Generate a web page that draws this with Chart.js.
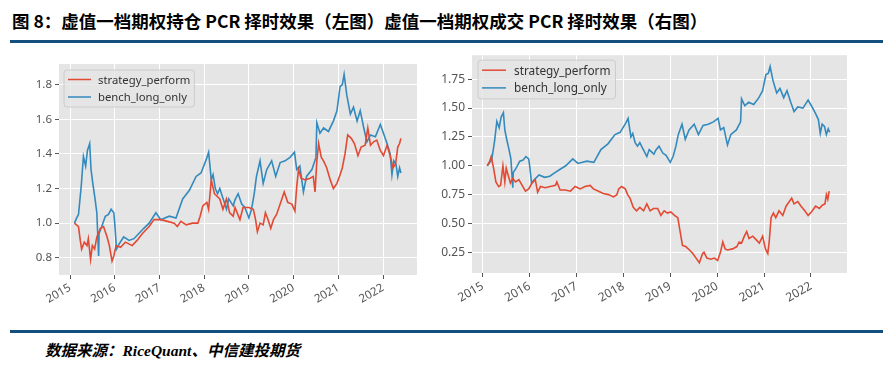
<!DOCTYPE html>
<html>
<head>
<meta charset="utf-8">
<script src="https://cdn.jsdelivr.net/npm/chart.js@4.4.1/dist/chart.umd.min.js"></script>
<style>
  body { margin: 0; width: 892px; height: 370px; background: #fff; position: relative; overflow: hidden; }
  #title { position: absolute; left: 12px; top: 8px; font: 700 17.5px "Noto Sans CJK SC", sans-serif; color: #000; white-space: nowrap; }
  .rule { position: absolute; left: 10px; width: 873px; height: 3px; background: #14507e; }
  #source { position: absolute; left: 45px; top: 338px; font: italic 700 15.5px "Liberation Serif", "Noto Sans CJK SC", serif; color: #000; white-space: nowrap; }
  canvas { position: absolute; }
</style>
</head>
<body>
<div id="title">图 8：虚值一档期权持仓 PCR 择时效果（左图）虚值一档期权成交 PCR 择时效果（右图）</div>
<div class="rule" style="top:40px"></div>
<canvas id="leftChart" width="440" height="272" style="left:0;top:45px"></canvas>
<canvas id="rightChart" width="452" height="272" style="left:440px;top:45px"></canvas>
<div class="rule" style="top:330px"></div>
<div id="source">数据来源：RiceQuant、中信建投期货</div>

<script>
// series names as in the legends
const seriesNames = ['strategy_perform', 'bench_long_only'];

// x values are decimal years
const yearTicks = [2015, 2016, 2017, 2018, 2019, 2020, 2021, 2022];
const leftYTicks = [0.8, 1.0, 1.2, 1.4, 1.6, 1.8];
const rightYTicks = [0.25, 0.50, 0.75, 1.00, 1.25, 1.50, 1.75];

// long-only benchmark (same curve in both panels)
const benchDates = [
  2015.10, 2015.15, 2015.19, 2015.25, 2015.30, 2015.35, 2015.39, 2015.44, 2015.47, 2015.51,
  2015.56, 2015.60, 2015.64, 2015.65, 2015.71, 2015.79, 2015.86, 2015.92, 2015.98, 2016.00,
  2016.04, 2016.10, 2016.20, 2016.32, 2016.43, 2016.54, 2016.65, 2016.77, 2016.92, 2017.03,
  2017.22, 2017.37, 2017.52, 2017.67, 2017.82, 2017.93, 2018.05, 2018.10, 2018.16, 2018.20,
  2018.25, 2018.30, 2018.35, 2018.40, 2018.45, 2018.50, 2018.55, 2018.60, 2018.65, 2018.69,
  2018.76, 2018.84, 2018.91, 2019.00, 2019.06, 2019.12, 2019.17, 2019.25, 2019.32, 2019.40,
  2019.51, 2019.60, 2019.70, 2019.81, 2019.92, 2020.02, 2020.07, 2020.14, 2020.22, 2020.29,
  2020.41, 2020.50, 2020.52, 2020.59, 2020.67, 2020.78, 2020.89, 2020.97, 2021.04, 2021.09,
  2021.13, 2021.19, 2021.27, 2021.34, 2021.42, 2021.49, 2021.57, 2021.64, 2021.72, 2021.83,
  2021.94, 2022.01, 2022.09, 2022.16, 2022.20, 2022.24, 2022.29, 2022.33, 2022.37, 2022.40
];
const benchValues = [
  1.00, 1.03, 1.05, 1.21, 1.385, 1.33, 1.42, 1.46, 1.31, 1.23,
  1.14, 1.06, 0.81, 0.94, 0.98, 1.04, 1.05, 1.08, 1.06, 1.00,
  0.85, 0.88, 0.92, 0.90, 0.91, 0.94, 0.97, 1.00, 1.06, 1.02,
  1.04, 1.03, 1.14, 1.19, 1.27, 1.29, 1.37, 1.41, 1.25, 1.28,
  1.20, 1.17, 1.20, 1.16, 1.12, 1.08, 1.14, 1.12, 1.10, 1.135,
  1.17, 1.11, 1.09, 1.03, 1.08, 1.17, 1.27, 1.36, 1.23, 1.31,
  1.36, 1.27, 1.35, 1.36, 1.38, 1.41, 1.31, 1.33, 1.18, 1.27,
  1.31, 1.38, 1.58, 1.52, 1.55, 1.53, 1.59, 1.65, 1.79, 1.80,
  1.86, 1.74, 1.63, 1.67, 1.59, 1.65, 1.55, 1.47, 1.51, 1.50,
  1.57, 1.52, 1.46, 1.40, 1.28, 1.36, 1.34, 1.27, 1.32, 1.29
];

// left panel: open-interest PCR timing strategy
const leftStratDates = [
  2015.10, 2015.19, 2015.23, 2015.26, 2015.32, 2015.38, 2015.41, 2015.46, 2015.50, 2015.55,
  2015.60, 2015.68, 2015.75, 2015.83, 2015.88, 2015.94, 2015.98, 2016.03, 2016.13, 2016.24,
  2016.39, 2016.50, 2016.62, 2016.77, 2016.88, 2017.03, 2017.18, 2017.33, 2017.40, 2017.48,
  2017.60, 2017.74, 2017.86, 2017.91, 2017.97, 2018.06, 2018.10, 2018.16, 2018.23, 2018.35,
  2018.42, 2018.50, 2018.57, 2018.65, 2018.69, 2018.80, 2018.87, 2019.00, 2019.10, 2019.15,
  2019.19, 2019.25, 2019.32, 2019.37, 2019.43, 2019.49, 2019.55, 2019.62, 2019.70, 2019.79,
  2019.87, 2019.96, 2020.03, 2020.07, 2020.11, 2020.17, 2020.26, 2020.37, 2020.44, 2020.48,
  2020.52, 2020.56, 2020.62, 2020.67, 2020.74, 2020.82, 2020.89, 2020.97, 2021.04, 2021.09,
  2021.15, 2021.21, 2021.29, 2021.36, 2021.44, 2021.51, 2021.60, 2021.66, 2021.72, 2021.79,
  2021.86, 2021.94, 2022.01, 2022.09, 2022.16, 2022.22, 2022.28, 2022.33, 2022.37, 2022.40
];
const leftStratValues = [
  1.00, 0.98, 0.90, 0.85, 0.89, 0.87, 0.91, 0.79, 0.87, 0.85,
  0.92, 0.97, 0.98, 0.92, 0.87, 0.78, 0.81, 0.87, 0.86, 0.89,
  0.87, 0.90, 0.94, 0.98, 1.02, 1.02, 1.01, 1.00, 0.98, 1.01,
  0.99, 1.00, 1.00, 1.04, 1.10, 1.12, 1.08, 1.25, 1.17, 1.14,
  1.08, 1.14, 1.06, 1.04, 1.09, 1.02, 1.09, 1.09, 1.08, 1.02,
  0.95, 1.00, 0.99, 1.06, 1.02, 0.97, 1.02, 1.05, 1.11, 1.18,
  1.12, 1.11, 1.07, 1.21, 1.31, 1.26, 1.25, 1.26, 1.27, 1.18,
  1.36, 1.46, 1.38, 1.36, 1.32, 1.25, 1.20, 1.23, 1.28, 1.32,
  1.40, 1.51, 1.49, 1.46, 1.39, 1.44, 1.45, 1.55, 1.45, 1.47,
  1.48, 1.42, 1.39, 1.45, 1.39, 1.32, 1.34, 1.44, 1.46, 1.49
];

// right panel: volume PCR timing strategy
const rightStratDates = [
  2015.09, 2015.14, 2015.18, 2015.23, 2015.28, 2015.34, 2015.38, 2015.43, 2015.47, 2015.50,
  2015.54, 2015.59, 2015.64, 2015.70, 2015.77, 2015.84, 2015.91, 2015.98, 2016.05, 2016.12,
  2016.17, 2016.23, 2016.33, 2016.44, 2016.55, 2016.58, 2016.65, 2016.76, 2016.87, 2016.97,
  2017.08, 2017.18, 2017.29, 2017.36, 2017.47, 2017.57, 2017.68, 2017.79, 2017.86, 2017.90,
  2017.96, 2018.04, 2018.09, 2018.14, 2018.21, 2018.28, 2018.35, 2018.43, 2018.50, 2018.57,
  2018.64, 2018.73, 2018.80, 2018.87, 2018.94, 2019.01, 2019.09, 2019.16, 2019.21, 2019.26,
  2019.33, 2019.41, 2019.48, 2019.55, 2019.62, 2019.69, 2019.72, 2019.78, 2019.87, 2019.94,
  2020.01, 2020.07, 2020.12, 2020.17, 2020.22, 2020.33, 2020.42, 2020.47, 2020.52, 2020.58,
  2020.63, 2020.68, 2020.76, 2020.83, 2020.90, 2020.97, 2021.03, 2021.08, 2021.11, 2021.15,
  2021.20, 2021.25, 2021.32, 2021.40, 2021.47, 2021.54, 2021.59, 2021.64, 2021.72, 2021.79,
  2021.87, 2021.94, 2022.01, 2022.10, 2022.18, 2022.25, 2022.30, 2022.33, 2022.36, 2022.39
];
const rightStratValues = [
  1.00, 1.03, 1.08, 0.98, 0.86, 0.82, 0.83, 1.00, 0.86, 0.98,
  0.92, 0.85, 0.89, 0.86, 0.88, 0.83, 0.78, 0.80, 0.85, 0.88,
  0.77, 0.82, 0.81, 0.82, 0.83, 0.86, 0.79, 0.79, 0.78, 0.82,
  0.80, 0.82, 0.83, 0.80, 0.78, 0.76, 0.75, 0.73, 0.75, 0.80,
  0.82, 0.80, 0.75, 0.72, 0.64, 0.61, 0.64, 0.61, 0.67, 0.61,
  0.63, 0.63, 0.57, 0.61, 0.59, 0.60, 0.57, 0.55, 0.43, 0.31,
  0.30, 0.27, 0.24, 0.20, 0.16, 0.24, 0.25, 0.20, 0.19, 0.20,
  0.18, 0.25, 0.34, 0.28, 0.27, 0.28, 0.30, 0.34, 0.33, 0.39,
  0.43, 0.37, 0.39, 0.36, 0.33, 0.39, 0.28, 0.24, 0.34, 0.55,
  0.59, 0.55, 0.61, 0.57, 0.65, 0.69, 0.72, 0.67, 0.69, 0.65,
  0.61, 0.57, 0.60, 0.65, 0.63, 0.66, 0.67, 0.75, 0.71, 0.78
];

const RED = '#E24A33';
const BLUE = '#348ABD';
const toPoints = (xs, ys) => xs.map((x, i) => ({ x, y: ys[i] }));

// ggplot-style grey panel behind the grid
const panelBg = {
  id: 'panelBg',
  beforeDraw(chart) {
    const { ctx, chartArea: a } = chart;
    ctx.save();
    ctx.fillStyle = '#E5E5E5';
    ctx.fillRect(a.left, a.top, a.right - a.left, a.bottom - a.top);
    ctx.restore();
  }
};

// matplotlib-like legend box in the upper-left corner of the panel
const boxLegend = {
  id: 'boxLegend',
  afterDatasetsDraw(chart, args, opts) {
    const { ctx, chartArea: a } = chart;
    const sets = chart.data.datasets;
    ctx.save();
    ctx.font = opts.fontSize + 'px "Noto Sans", sans-serif';
    const textW = Math.max(...sets.map(d => ctx.measureText(d.label).width));
    const x = a.left + opts.dx, y = a.top + opts.dy;
    const w = opts.textX + textW + opts.padR;
    const h = opts.padT + opts.row * (sets.length - 1) + opts.padB;
    ctx.globalAlpha = 0.8;
    ctx.fillStyle = '#E5E5E5';
    ctx.beginPath();
    ctx.roundRect(x, y, w, h, 3);
    ctx.fill();
    ctx.globalAlpha = 1;
    ctx.strokeStyle = '#CCCCCC';
    ctx.lineWidth = 1;
    ctx.stroke();
    ctx.textBaseline = 'middle';
    ctx.fillStyle = '#333';
    sets.forEach((d, i) => {
      const cy = y + opts.padT + opts.row * i;
      ctx.strokeStyle = d.borderColor;
      ctx.lineWidth = 1.5;
      ctx.beginPath();
      ctx.moveTo(x + 4, cy);
      ctx.lineTo(x + opts.lineEnd, cy);
      ctx.stroke();
      ctx.fillText(d.label, x + opts.textX, cy + 1);
    });
    ctx.restore();
  }
};

function makeChart(id, strat, yTicks, cfg) {
  new Chart(document.getElementById(id), {
    type: 'line',
    data: {
      datasets: [
        { label: seriesNames[0], data: strat, borderColor: RED, borderWidth: 1.6, pointRadius: 0, tension: 0 },
        { label: seriesNames[1], data: toPoints(benchDates, benchValues), borderColor: BLUE, borderWidth: 1.6, pointRadius: 0, tension: 0 }
      ]
    },
    options: {
      responsive: false,
      animation: false,
      devicePixelRatio: 1,
      layout: { padding: cfg.padding },
      plugins: {
        legend: { display: false },
        tooltip: { enabled: false },
        boxLegend: cfg.legend
      },
      scales: {
        x: {
          type: 'linear',
          min: cfg.xMin,
          max: cfg.xMax,
          afterBuildTicks: s => { s.ticks = yearTicks.map(v => ({ value: v })); },
          afterFit: s => { s.height = cfg.xAxisH; },
          grid: { color: '#FFFFFF', lineWidth: 1, tickColor: '#555', tickLength: 4 },
          border: { display: false },
          ticks: {
            autoSkip: false, minRotation: 30, maxRotation: 30, padding: 2,
            color: '#555', font: { family: 'Noto Sans', size: cfg.fontSize },
            callback: v => String(v)
          }
        },
        y: {
          min: cfg.yMin,
          max: cfg.yMax,
          afterBuildTicks: s => { s.ticks = yTicks.map(v => ({ value: v })); },
          afterFit: s => { s.width = cfg.yAxisW; },
          grid: { color: '#FFFFFF', lineWidth: 1, tickColor: '#555', tickLength: 4 },
          border: { display: false },
          ticks: {
            padding: 3,
            color: '#555', font: { family: 'Noto Sans', size: cfg.fontSize },
            callback: v => v.toFixed(cfg.decimals)
          }
        }
      }
    },
    plugins: [panelBg, boxLegend]
  });
}

makeChart('leftChart', toPoints(leftStratDates, leftStratValues), leftYTicks, {
  padding: { left: 0, right: 23, top: 19, bottom: 0 },
  xAxisH: 42, yAxisW: 59,
  xMin: 2014.754, xMax: 2022.76, yMin: 0.70, yMax: 1.92,
  fontSize: 11.5, decimals: 1,
  legend: { dx: 5, dy: 6, fontSize: 11.3, row: 17.5, padT: 9.5, padB: 10, lineEnd: 27, textX: 34, padR: 4 }
});

makeChart('rightChart', toPoints(rightStratDates, rightStratValues), rightYTicks, {
  padding: { left: 0, right: 45, top: 10, bottom: 0 },
  xAxisH: 44, yAxisW: 32,
  xMin: 2014.77, xMax: 2022.77, yMin: 0.071, yMax: 1.958,
  fontSize: 12, decimals: 2,
  legend: { dx: 6, dy: 5, fontSize: 11.8, row: 17.7, padT: 10, padB: 11, lineEnd: 28, textX: 36, padR: 5 }
});
</script>
</body>
</html>
